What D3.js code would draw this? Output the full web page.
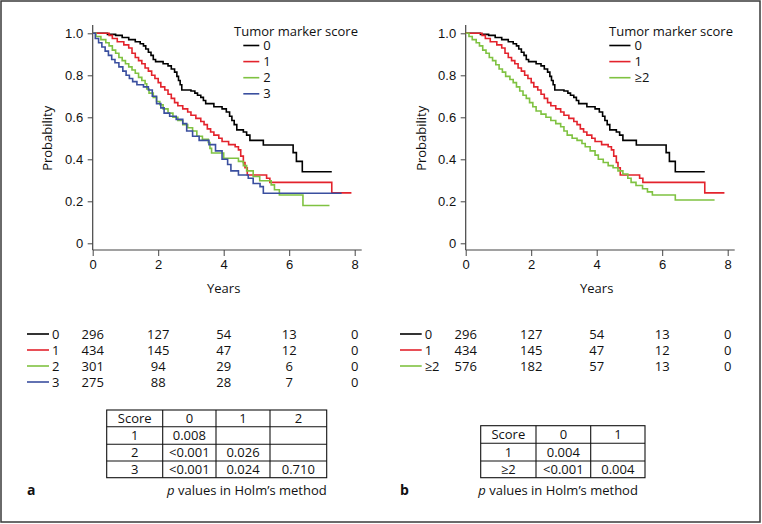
<!DOCTYPE html>
<html>
<head>
<meta charset="utf-8">
<script src="https://cdn.jsdelivr.net/npm/d3@7"></script>
<style>
  html, body { margin: 0; padding: 0; background: #fff; }
  svg { display: block; font-family: "Open Sans", "Noto Sans", sans-serif; }
</style>
</head>
<body>
<svg id="chart" width="762" height="524"></svg>
<script>
// ---------------- data ----------------
const yearTicks = [0, 2, 4, 6, 8];
const probTicks = [0, 0.2, 0.4, 0.6, 0.8, 1.0];
const probTickLabels = ["0", "0.2", "0.4", "0.6", "0.8", "1.0"];

// Kaplan-Meier step points (time in years, survival probability); last point = end of follow-up
const score0Times = [0, 0.45, 0.7, 0.9, 1.1, 1.3, 1.45, 1.55, 1.62, 1.7, 1.78, 1.85, 1.92, 2.15, 2.3, 2.4, 2.5, 2.57, 2.62, 2.67, 2.72, 3.0, 3.12, 3.2, 3.3, 3.38, 3.45, 3.7, 3.95, 4.08, 4.18, 4.25, 4.32, 4.4, 4.6, 4.7, 4.8, 5.21, 6.12, 6.22, 6.4, 7.3];
const score0Surv  = [1, 0.995, 0.99, 0.98, 0.97, 0.96, 0.95, 0.94, 0.925, 0.91, 0.895, 0.875, 0.865, 0.855, 0.845, 0.83, 0.815, 0.795, 0.775, 0.755, 0.73, 0.725, 0.715, 0.705, 0.695, 0.68, 0.665, 0.65, 0.64, 0.625, 0.605, 0.585, 0.565, 0.54, 0.53, 0.515, 0.49, 0.468, 0.432, 0.39, 0.341, 0.341];

const score1Times = [0, 0.5, 0.6, 0.75, 0.95, 1.1, 1.2, 1.3, 1.4, 1.5, 1.6, 1.7, 1.8, 1.9, 2.0, 2.08, 2.2, 2.3, 2.4, 2.5, 2.6, 2.75, 2.9, 3.0, 3.15, 3.3, 3.4, 3.5, 3.6, 3.7, 3.85, 3.95, 4.15, 4.35, 4.45, 4.52, 4.6, 4.65, 4.72, 5.31, 5.41, 7.3, 7.9];
const score1Surv  = [1, 0.99, 0.975, 0.96, 0.945, 0.93, 0.905, 0.885, 0.87, 0.855, 0.835, 0.82, 0.8, 0.785, 0.765, 0.745, 0.73, 0.71, 0.69, 0.67, 0.655, 0.64, 0.625, 0.61, 0.595, 0.58, 0.565, 0.545, 0.53, 0.515, 0.5, 0.485, 0.47, 0.46, 0.445, 0.415, 0.385, 0.36, 0.325, 0.31, 0.29, 0.24, 0.24];

const score2Times = [0, 0.1, 0.25, 0.4, 0.5, 0.6, 0.7, 0.8, 0.9, 1.0, 1.1, 1.2, 1.3, 1.4, 1.5, 1.6, 1.65, 1.72, 1.85, 1.95, 2.05, 2.15, 2.3, 2.45, 2.6, 2.75, 2.9, 3.05, 3.18, 3.35, 3.53, 3.58, 3.63, 4.0, 4.45, 4.6, 4.7, 4.9, 5.1, 5.45, 5.55, 5.7, 6.42, 7.23];
const score2Surv  = [1, 0.985, 0.97, 0.955, 0.94, 0.92, 0.905, 0.885, 0.87, 0.855, 0.84, 0.825, 0.81, 0.79, 0.775, 0.76, 0.735, 0.715, 0.695, 0.675, 0.66, 0.64, 0.62, 0.6, 0.585, 0.565, 0.55, 0.535, 0.51, 0.495, 0.48, 0.452, 0.43, 0.405, 0.39, 0.37, 0.345, 0.318, 0.298, 0.278, 0.255, 0.23, 0.18, 0.18];

const score3Times = [0, 0.08, 0.18, 0.28, 0.38, 0.48, 0.58, 0.68, 0.8, 0.92, 1.02, 1.12, 1.22, 1.35, 1.55, 1.7, 1.82, 1.95, 2.08, 2.18, 2.35, 2.55, 2.75, 2.87, 3.05, 3.25, 3.55, 3.75, 3.95, 4.12, 4.22, 4.45, 4.75, 4.9, 5.11, 5.21, 7.6];
const score3Surv  = [1, 0.975, 0.955, 0.935, 0.915, 0.895, 0.875, 0.86, 0.84, 0.82, 0.8, 0.785, 0.77, 0.755, 0.745, 0.73, 0.7, 0.665, 0.645, 0.62, 0.605, 0.59, 0.57, 0.535, 0.51, 0.49, 0.47, 0.44, 0.4, 0.375, 0.345, 0.325, 0.31, 0.285, 0.27, 0.238, 0.238];

const score2plusTimes = [0, 0.1, 0.2, 0.32, 0.42, 0.52, 0.62, 0.72, 0.82, 0.92, 1.02, 1.12, 1.22, 1.35, 1.45, 1.55, 1.65, 1.75, 1.85, 1.95, 2.05, 2.15, 2.3, 2.45, 2.6, 2.75, 2.9, 3.0, 3.1, 3.25, 3.4, 3.55, 3.65, 3.8, 3.95, 4.05, 4.2, 4.35, 4.5, 4.65, 4.8, 4.95, 5.05, 5.2, 5.4, 5.55, 5.7, 6.4, 7.6];
const score2plusSurv  = [1, 0.985, 0.97, 0.955, 0.94, 0.92, 0.905, 0.885, 0.87, 0.85, 0.83, 0.815, 0.795, 0.78, 0.765, 0.745, 0.725, 0.705, 0.69, 0.67, 0.65, 0.63, 0.615, 0.6, 0.585, 0.57, 0.555, 0.535, 0.515, 0.5, 0.49, 0.475, 0.46, 0.44, 0.42, 0.4, 0.385, 0.37, 0.36, 0.345, 0.33, 0.31, 0.29, 0.275, 0.26, 0.245, 0.23, 0.206, 0.206];

// legends / risk tables
const groupsA = ["0", "1", "2", "3"];
const groupsB = ["0", "1", "\u22652"];
const colors = { black: "#000000", red: "#e3232c", green: "#7fc241", blue: "#3a4f9f" };
const riskA = [[296, 127, 54, 13, 0], [434, 145, 47, 12, 0], [301, 94, 29, 6, 0], [275, 88, 28, 7, 0]];
const riskB = [[296, 127, 54, 13, 0], [434, 145, 47, 12, 0], [576, 182, 57, 13, 0]];

// Holm p-value tables
const pHeaderA = ["Score", "0", "1", "2"];
const pRowsA = [["1", "0.008", "", ""], ["2", "<0.001", "0.026", ""], ["3", "<0.001", "0.024", "0.710"]];
const pHeaderB = ["Score", "0", "1"];
const pRowsB = [["1", "0.004", ""], ["\u22652", "<0.001", "0.004"]];

// ---------------- drawing ----------------
const svg = d3.select("#chart");
svg.append("rect").attr("x", 1).attr("y", 1).attr("width", 759).attr("height", 521)
  .attr("fill", "none").attr("stroke", "#3a3a3a").attr("stroke-width", 1.5);

function toPts(ts, ss) { return ts.map((t, i) => [t, ss[i]]); }

function panel(opts) {
  const x = d3.scaleLinear().domain([0, 8]).range([opts.x0, opts.x0 + 262]);
  const y = d3.scaleLinear().domain([0, 1]).range([243.3, 33.3]);
  const g = svg.append("g");
  const axisY = 250;

  // axes
  const ya = g.append("g").attr("transform", `translate(${opts.x0},0)`)
    .call(d3.axisLeft(y).tickValues(probTicks).tickSize(5).tickSizeOuter(0)
      .tickFormat((d, i) => probTickLabels[i]));
  ya.select(".domain").remove();
  ya.selectAll("text").attr("font-size", 13).attr("fill", "#111").attr("x", -9.5);
  ya.selectAll("line").attr("stroke", "#444");
  const xa = g.append("g").attr("transform", `translate(0,${axisY})`)
    .call(d3.axisBottom(x).tickValues(yearTicks).tickSize(6).tickSizeOuter(0));
  xa.select(".domain").remove();
  xa.selectAll("text").attr("font-size", 13).attr("fill", "#111").attr("y", 9.5);
  xa.selectAll("line").attr("stroke", "#444");
  g.append("line").attr("x1", opts.x0).attr("x2", opts.x0).attr("y1", 25).attr("y2", axisY)
    .attr("stroke", "#444").attr("stroke-width", 1.2);
  g.append("line").attr("x1", opts.x0).attr("x2", x(8) + 7).attr("y1", axisY).attr("y2", axisY)
    .attr("stroke", "#444").attr("stroke-width", 1.2);

  g.append("text").attr("x", x(4)).attr("y", 293).attr("text-anchor", "middle")
    .attr("font-size", 13).attr("fill", "#111").text("Years");
  g.append("text").attr("transform", `translate(${opts.yTitleX},${(y(0) + y(1)) / 2}) rotate(-90)`)
    .attr("text-anchor", "middle").attr("font-size", 13).attr("fill", "#111").text("Probability");

  // curves
  const line = d3.line().x(d => x(d[0])).y(d => y(d[1])).curve(d3.curveStepAfter);
  opts.curves.forEach(c => {
    g.append("path").attr("d", line(c.pts)).attr("fill", "none")
      .attr("stroke", c.color).attr("stroke-width", 1.6);
  });

  // legend
  g.append("text").attr("x", opts.legX).attr("y", 35.5).attr("font-size", 13).attr("fill", "#111")
    .text("Tumor marker score");
  opts.groups.forEach((lab, i) => {
    const yy = 45.5 + i * 16.1;
    g.append("line").attr("x1", opts.legLine[0]).attr("x2", opts.legLine[1]).attr("y1", yy).attr("y2", yy)
      .attr("stroke", opts.curves[i].color).attr("stroke-width", 1.6);
    g.append("text").attr("x", opts.legLine[1] + 4).attr("y", yy + 4.5).attr("font-size", 13)
      .attr("fill", "#111").text(lab);
  });

  // number at risk
  opts.risk.forEach((row, i) => {
    const yy = 334 + i * 16;
    g.append("line").attr("x1", opts.riskLine[0]).attr("x2", opts.riskLine[1]).attr("y1", yy).attr("y2", yy)
      .attr("stroke", opts.curves[i].color).attr("stroke-width", 1.6);
    g.append("text").attr("x", opts.riskLine[1] + 3).attr("y", yy + 4.5).attr("font-size", 13)
      .attr("fill", "#111").text(opts.groups[i]);
    row.forEach((v, j) => {
      g.append("text").attr("x", x(yearTicks[j])).attr("y", yy + 4.5).attr("text-anchor", "middle")
        .attr("font-size", 13).attr("fill", "#111").text(v);
    });
  });

  // p-value table
  const cols = opts.pCols, rows = opts.pRowsY;
  const all = [opts.pHeader].concat(opts.pRows);
  g.append("rect").attr("x", cols[0]).attr("y", rows[0]).attr("width", cols[cols.length - 1] - cols[0])
    .attr("height", rows[rows.length - 1] - rows[0]).attr("fill", "none").attr("stroke", "#111").attr("stroke-width", 1.1);
  cols.slice(1, -1).forEach(cx => g.append("line").attr("x1", cx).attr("x2", cx).attr("y1", rows[0])
    .attr("y2", rows[rows.length - 1]).attr("stroke", "#111").attr("stroke-width", 1.1));
  rows.slice(1, -1).forEach(ry => g.append("line").attr("x1", cols[0]).attr("x2", cols[cols.length - 1])
    .attr("y1", ry).attr("y2", ry).attr("stroke", "#111").attr("stroke-width", 1.1));
  all.forEach((r, ri) => r.forEach((cell, ci) => {
    g.append("text").attr("x", (cols[ci] + cols[ci + 1]) / 2).attr("y", (rows[ri] + rows[ri + 1]) / 2 + 4.5)
      .attr("text-anchor", "middle").attr("font-size", 13).attr("fill", "#111").text(cell);
  }));
  const cap = g.append("text").attr("x", opts.capX).attr("y", 495).attr("text-anchor", opts.capAnchor)
    .attr("font-size", 13).attr("fill", "#111");
  cap.append("tspan").attr("font-style", "italic").text("p");
  cap.append("tspan").text(" values in Holm\u2019s method");

  g.append("text").attr("x", opts.labX).attr("y", 495).attr("font-size", 14).attr("font-weight", "bold")
    .attr("fill", "#111").text(opts.label);
}

panel({
  x0: 92.7, yTitleX: 52, legX: 234, legLine: [243.3, 259.3], riskLine: [27, 49],
  groups: groupsA, risk: riskA,
  curves: [
    { pts: toPts(score0Times, score0Surv), color: colors.black },
    { pts: toPts(score1Times, score1Surv), color: colors.red },
    { pts: toPts(score2Times, score2Surv), color: colors.green },
    { pts: toPts(score3Times, score3Surv), color: colors.blue }
  ],
  pHeader: pHeaderA, pRows: pRowsA,
  pCols: [106.7, 162.7, 216, 270, 326.7], pRowsY: [410, 426.7, 444.3, 461, 477.7],
  capX: 326.7, capAnchor: "end", labX: 27, label: "a"
});

panel({
  x0: 465.7, yTitleX: 425.5, legX: 609, legLine: [609.3, 630.5], riskLine: [400, 421.7],
  groups: groupsB, risk: riskB,
  curves: [
    { pts: toPts(score0Times, score0Surv), color: colors.black },
    { pts: toPts(score1Times, score1Surv), color: colors.red },
    { pts: toPts(score2plusTimes, score2plusSurv), color: colors.green }
  ],
  pHeader: pHeaderB, pRows: pRowsB,
  pCols: [480.7, 536, 590.7, 645], pRowsY: [425.7, 443.3, 461, 477.7],
  capX: 478.3, capAnchor: "start", labX: 400, label: "b"
});
</script>
</body>
</html>
